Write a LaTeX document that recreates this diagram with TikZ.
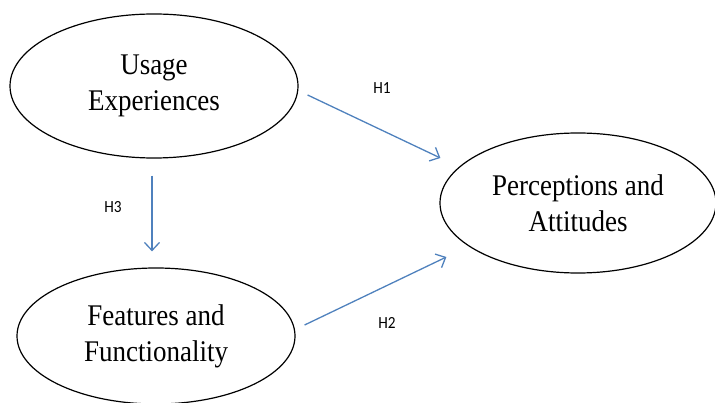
\documentclass[tikz,border=0pt]{standalone}
\usepackage{fontspec}
\setmainfont{Liberation Serif}[FakeStretch=0.9]
\newfontfamily\hfont{Carlito}[FakeStretch=0.9]
\usetikzlibrary{shapes.geometric,arrows.meta}

\definecolor{hblue}{RGB}{79,129,189}

\begin{document}
\begin{tikzpicture}[x=1pt,y=-1pt,
                    >={Straight Barb[length=8pt,width=15pt]},
                    semithick]
  \tikzset{construct/.style={ellipse,draw=black,line width=1.2pt,inner sep=0pt,
                             align=center,font=\fontsize{30}{36}\selectfont},
           hyp/.style={->,draw=hblue,line width=1.3pt},
           hlabel/.style={font=\hfont\fontsize{17}{20}\selectfont,inner sep=1pt}}
  \useasboundingbox (0,0) rectangle (715,403);

  \node[construct,minimum width=288pt,minimum height=144pt] (usage) at (154,86)  {Usage\\Experiences};
  \node[construct,minimum width=276pt,minimum height=140pt] (perc)  at (578,203) {Perceptions and\\Attitudes};
  \node[construct,minimum width=278pt,minimum height=136pt] (feat)  at (156,336) {Features and\\Functionality};

  % arrow ends stand off the ellipses
  \coordinate (h1a) at ([shift={(9,9)}]usage.east);
  \coordinate (h1b) at ([shift={(1,-45)}]perc.west);
  \coordinate (h3a) at ([shift={(-2,17)}]usage.south);
  \coordinate (h3b) at ([shift={(-4,-16)}]feat.north);
  \coordinate (h2a) at ([shift={(9,-11)}]feat.east);
  \coordinate (h2b) at ([shift={(7,54)}]perc.west);

  \draw[hyp] (h1a) -- (h1b);
  \draw[hyp] (h3a) -- (h3b);
  \draw[hyp] (h2a) -- (h2b);

  \node[hlabel] (l1) at (382,88)  {H1};
  \node[hlabel] (l3) at (113,207) {H3};
  \node[hlabel] (l2) at (387,323) {H2};
\end{tikzpicture}
\end{document}
